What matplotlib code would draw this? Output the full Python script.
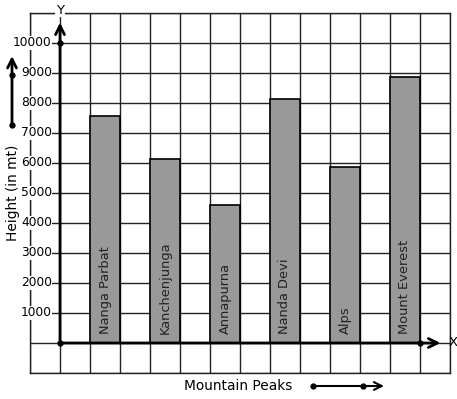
import matplotlib
matplotlib.use("Agg")
import matplotlib.pyplot as plt

# data
peaks = ["Nanga Parbat", "Kanchenjunga", "Annapurna", "Nanda Devi", "Alps", "Mount Everest"]
heights = [7560, 6120, 4590, 8120, 5870, 8880]
bar_pos = [1.5, 3.5, 5.5, 7.5, 9.5, 11.5]
ytick_vals = [1000, 2000, 3000, 4000, 5000, 6000, 7000, 8000, 9000, 10000]

W, H = 457, 399
fig = plt.figure(figsize=(W / 100, H / 100), dpi=100)
ax = fig.add_axes([30 / W, 26 / H, 420 / W, 360 / H])
ax.set_xlim(-1, 13)
ax.set_ylim(-1000, 11000)

# graph paper grid
ax.set_xticks(range(-1, 14))
ax.set_yticks(range(-1000, 11001, 1000))
ax.set_xticklabels([])
ax.set_yticklabels([])
ax.tick_params(length=0)
ax.set_axisbelow(True)
ax.grid(True, color="#222222", lw=1.0)
for s in ax.spines.values():
    s.set_color("#222222")
    s.set_linewidth(1.0)

ax.bar(bar_pos, heights, width=1.0, color="#999999", edgecolor="black", lw=1.2, zorder=3)
for x, name in zip(bar_pos, peaks):
    ax.text(x, 300, name, rotation=90, ha="center", va="bottom", fontsize=9.4,
            color="#222222", zorder=4)

for v in ytick_vals:
    ax.text(-0.27, v, str(v), ha="right", va="center", fontsize=8.8, zorder=5,
            bbox=dict(facecolor="white", edgecolor="none", pad=0.3))

# axes with arrows
ax.annotate("", xy=(0, 10680), xytext=(0, 0),
            arrowprops=dict(arrowstyle="->", lw=2, color="black", mutation_scale=16,
                            shrinkA=0, shrinkB=0), zorder=6, annotation_clip=False)
ax.annotate("", xy=(12.68, 0), xytext=(0, 0),
            arrowprops=dict(arrowstyle="->", lw=2, color="black", mutation_scale=16,
                            shrinkA=0, shrinkB=0), zorder=6, annotation_clip=False)
ax.plot([0, 0, 12], [0, 10000, 0], "o", color="black", ms=3.5, zorder=7, clip_on=False)
ax.text(0, 11100, "Y", ha="center", va="center", fontsize=9.5, clip_on=False,
        bbox=dict(facecolor="white", edgecolor="none", pad=0.5))
ax.text(12.95, 0, "X", ha="left", va="center", fontsize=9.5, clip_on=False)

# labels
fig.text(13 / W, 1 - 193 / H, "Height (in mt)", rotation=90, ha="center", va="center", fontsize=9.9)
fig.text(238 / W, 1 - 386 / H, "Mountain Peaks", ha="center", va="center", fontsize=9.9)

# little direction arrows beside the labels
fig.add_artist(matplotlib.patches.FancyArrowPatch(
    (12 / W, 1 - 125 / H), (12 / W, 1 - 56 / H), transform=fig.transFigure,
    arrowstyle="->", lw=2, color="black", mutation_scale=16, shrinkA=0, shrinkB=0))
fig.add_artist(matplotlib.lines.Line2D([12 / W, 12 / W], [1 - 125 / H, 1 - 75 / H],
                                       transform=fig.transFigure, marker="o", ms=3.5,
                                       lw=0, color="black"))
fig.add_artist(matplotlib.patches.FancyArrowPatch(
    (313 / W, 1 - 386 / H), (384 / W, 1 - 386 / H), transform=fig.transFigure,
    arrowstyle="->", lw=1.5, color="black", mutation_scale=14, shrinkA=0, shrinkB=0))
fig.add_artist(matplotlib.lines.Line2D([313 / W, 363 / W], [1 - 386 / H, 1 - 386 / H],
                                       transform=fig.transFigure, marker="o", ms=3.5,
                                       lw=0, color="black"))

fig.savefig("out.png", dpi=100)
